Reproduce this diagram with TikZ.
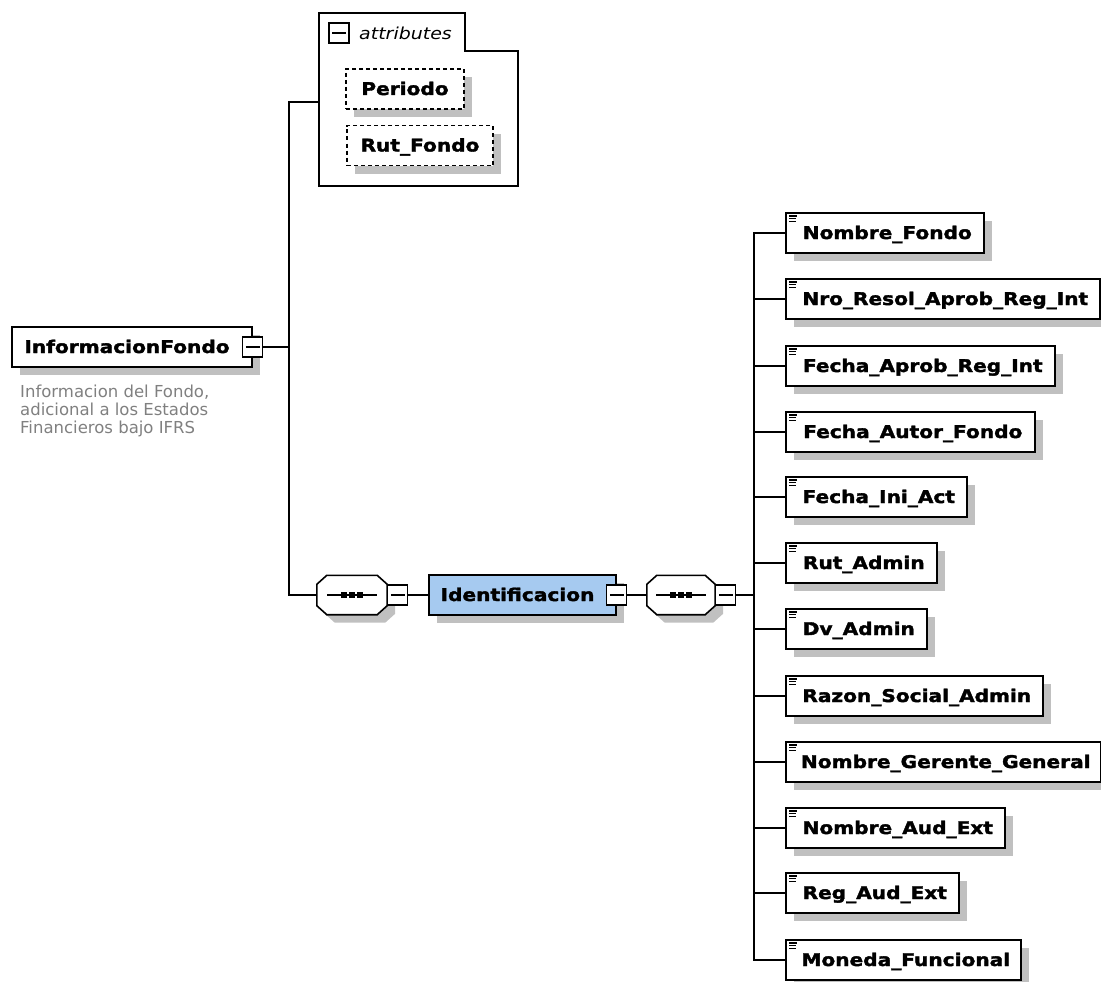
\documentclass[tikz,border=0pt]{standalone}
\usepackage{fontspec}
\usepackage{tikz}
\usetikzlibrary{shadows}
\newfontfamily\diagfont[FakeStretch=1.15, BoldFeatures={FakeBold=2}]{DejaVu Sans}
\newfontfamily\notefont{DejaVu Sans}
\definecolor{shadowgray}{RGB}{192,192,192}
\definecolor{notegray}{RGB}{128,128,128}
\definecolor{complexblue}{RGB}{166,202,240}

\tikzset{
  conn/.style={line width=1.3pt},
  box/.style={draw, line width=1.6pt, fill=white, minimum height=40pt, inner sep=0pt,
    font=\diagfont\bfseries\fontsize{17.5}{20}\selectfont, text height=13pt, text depth=1pt,
    drop shadow={shadow xshift=8pt, shadow yshift=-8pt, fill=shadowgray, opacity=1}},
  elem/.style={box, anchor=west, minimum width=#1, execute at begin node={\hspace*{5pt}},
    path picture={
      \draw[black, line width=1.1pt] ([xshift=3.5pt,yshift=-3pt]path picture bounding box.north west) -- ++(8pt,0pt);
      \draw[black, line width=1.1pt] ([xshift=3.5pt,yshift=-5.7pt]path picture bounding box.north west) -- ++(7pt,0pt);
      \draw[black, line width=1.1pt] ([xshift=3.5pt,yshift=-8.4pt]path picture bounding box.north west) -- ++(7pt,0pt);}},
  comp/.style={box, minimum width=#1, execute at end node={\hspace*{10pt}}},
  attr/.style={box, minimum width=#1, line width=1.3pt, dash pattern=on 4pt off 3pt},
  minus/.style={draw, line width=1.2pt, fill=white, minimum size=20pt, inner sep=0pt,
    path picture={\draw[black, line width=1.2pt] ([xshift=-7pt]path picture bounding box.center) -- ([xshift=7pt]path picture bounding box.center);}},
  seqbox/.style={minimum width=#1, minimum height=39pt, inner sep=0pt},
  octpath/.style={insert path={([xshift=10pt]#1.north west) -- ([xshift=-10pt]#1.north east)
    -- ([yshift=-9pt]#1.north east) -- ([yshift=9pt]#1.south east) -- ([xshift=-10pt]#1.south east)
    -- ([xshift=10pt]#1.south west) -- ([yshift=9pt]#1.south west) -- ([yshift=-9pt]#1.north west) -- cycle}},
  octline/.style={draw, line width=1.6pt, fill=white},
  octshadow/.style={fill=shadowgray, transform canvas={shift={(8pt,-8pt)}}},
  seqicon/.style={fill=white, inner sep=0pt, minimum width=52pt, minimum height=7pt,
    path picture={
      \draw[black, line width=1.2pt] ([xshift=-25pt]path picture bounding box.center) -- ([xshift=25pt]path picture bounding box.center);
      \foreach \d in {-8,0,8} \fill[black] ([xshift={(\d-3)*1pt}, yshift=-2.6pt]path picture bounding box.center) rectangle ++(6pt,5.2pt);}},
}

\begin{document}
\begin{tikzpicture}[x=1pt, y=-1pt]
        \useasboundingbox (0,0) rectangle (1101,982);

        \draw[line width=1.3pt] (319,13) -- (465,13) -- (465,51) -- (518,51) -- (518,186) -- (319,186) -- cycle;
        \coordinate (attrin) at (319,102);
        \node[minus] (attrm) at (339,33) {};
        \node[anchor=west, inner sep=0pt, font=\diagfont\itshape\fontsize{16.5}{18}\selectfont] (attrlabel) at (359,33) {attributes};
        \node[attr=118pt] (periodo) at (405,89) {Periodo};
        \node[attr=146pt] (rutfondo) at (420,145.5) {Rut\_Fondo};

        \node[comp=240pt] (infofondo) at (132,347) {InformacionFondo};
        \node[minus] (infm) at (infofondo.east) {};
        \node[anchor=north west, align=left, inner sep=0pt, text=notegray,
              font=\notefont\fontsize{16.5}{18}\selectfont] (infonote) at (20,385)
              {Informacion del Fondo,\\adicional a los Estados\\Financieros bajo IFRS};
        \coordinate (bus1) at (289,347);

        \node[seqbox=70pt] (seqa) at (352,595) {};
        \fill[octshadow, octpath=seqa];
        \draw[octline, octpath=seqa];
        \node[seqicon] (seqaicon) at (seqa) {};
        \node[minus, anchor=west] (seqam) at (seqa.east) {};
        \node[comp=187pt, fill=complexblue] (ident) at (522.5,595) {Identificacion};
        \node[minus] (identm) at (ident.east) {};
        \node[seqbox=68pt] (seqb) at (681,595) {};
        \fill[octshadow, octpath=seqb];
        \draw[octline, octpath=seqb];
        \node[seqicon] (seqbicon) at (seqb) {};
        \node[minus, anchor=west] (seqbm) at (seqb.east) {};
        \coordinate (bus2) at (754,595);

        \node[elem=198pt] (nombre) at (785,233) {Nombre\_Fondo};
        \node[elem=314pt] (nroresol) at (785,299) {Nro\_Resol\_Aprob\_Reg\_Int};
        \node[elem=269pt] (fechaaprob) at (785,366) {Fecha\_Aprob\_Reg\_Int};
        \node[elem=249pt] (fechaautor) at (785,432) {Fecha\_Autor\_Fondo};
        \node[elem=181pt] (fechaini) at (785,497) {Fecha\_Ini\_Act};
        \node[elem=151pt] (rutadmin) at (785,563) {Rut\_Admin};
        \node[elem=141pt] (dvadmin) at (785,629) {Dv\_Admin};
        \node[elem=257pt] (razon) at (785,696) {Razon\_Social\_Admin};
        \node[elem=315pt] (gerente) at (785,762) {Nombre\_Gerente\_General};
        \node[elem=219pt] (nombreaud) at (785,828) {Nombre\_Aud\_Ext};
        \node[elem=173pt] (regaud) at (785,893) {Reg\_Aud\_Ext};
        \node[elem=235pt] (moneda) at (785,960) {Moneda\_Funcional};

        \draw[conn] (infm.east) -- (bus1);
        \draw[conn] (attrin) -| (bus1);
        \draw[conn] (seqa.west) -| (bus1);
        \draw[conn] (seqam.east) -- (ident.west);
        \draw[conn] (identm.east) -- (seqb.west);
        \draw[conn] (seqbm.east) -- (bus2);
        \draw[conn] (nombre.west) -| (bus2);
        \draw[conn] (nroresol.west) -| (bus2);
        \draw[conn] (fechaaprob.west) -| (bus2);
        \draw[conn] (fechaautor.west) -| (bus2);
        \draw[conn] (fechaini.west) -| (bus2);
        \draw[conn] (rutadmin.west) -| (bus2);
        \draw[conn] (dvadmin.west) -| (bus2);
        \draw[conn] (razon.west) -| (bus2);
        \draw[conn] (gerente.west) -| (bus2);
        \draw[conn] (nombreaud.west) -| (bus2);
        \draw[conn] (regaud.west) -| (bus2);
        \draw[conn] (moneda.west) -| (bus2);
    \end{tikzpicture}
\end{document}
